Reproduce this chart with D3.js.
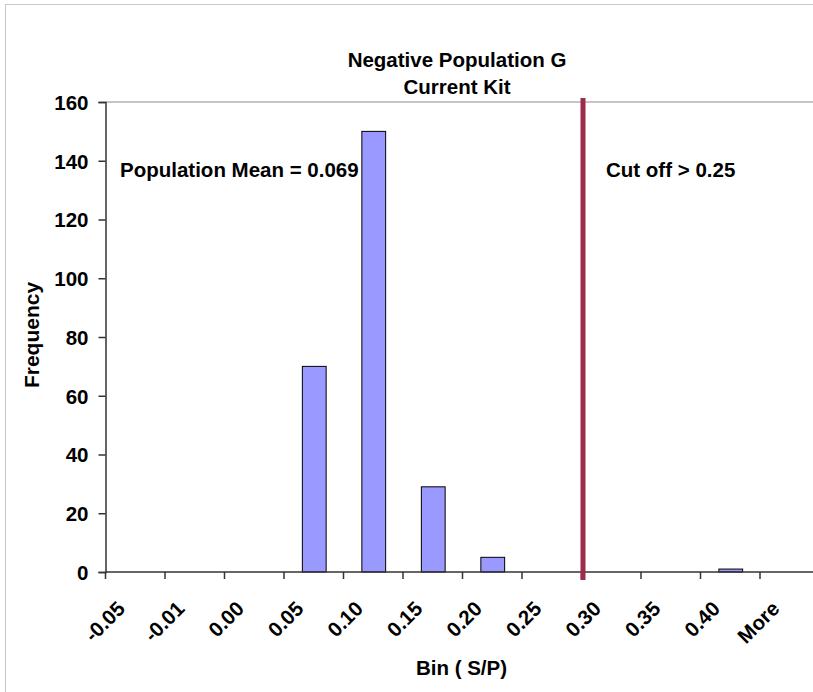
<!DOCTYPE html>
<html>
<head>
<meta charset="utf-8">
<script src="https://cdn.jsdelivr.net/npm/d3@7"></script>
<style>
  body { margin: 0; background: #fff; overflow: hidden; }
  svg text { font-family: "Liberation Sans", Arial, sans-serif; font-weight: bold; fill: #000; }
</style>
</head>
<body>
<svg id="chart"></svg>
<script>
// histogram bins and counts
const bins = ["-0.05", "-0.01", "0.00", "0.05", "0.10", "0.15", "0.20", "0.25", "0.30", "0.35", "0.40", "More"];
const counts = [0, 0, 0, 70, 150, 29, 5, 0, 0, 0, 1, 0];
const yTicks = [0, 20, 40, 60, 80, 100, 120, 140, 160];
const cutoffBin = "0.30";   // line drawn at the left edge of this bin
const titleLines = ["Negative Population G", "Current Kit"];

const W = 813, H = 692;
const margin = { top: 102, left: 105.5, bottom: 120, right: -6.5 };
const width = W - margin.left - margin.right;
const height = H - margin.top - margin.bottom;
const fs = "20.5px";

const svg = d3.select("#chart").attr("width", W).attr("height", H);

// outer chart frame (light gray, partly outside the window)
svg.append("rect")
  .attr("x", 5.5).attr("y", 4.5)
  .attr("width", 830).attr("height", 700)
  .attr("fill", "none").attr("stroke", "#c8c8c8").attr("stroke-width", 1);

const chart = svg.append("g").attr("transform", `translate(${margin.left},${margin.top})`);

const x = d3.scaleBand().domain(bins).range([0, width]).paddingInner(0).paddingOuter(0);
const y = d3.scaleLinear().domain([0, 160]).range([height, 0]);

// plot area top border
chart.append("line")
  .attr("x1", 0).attr("x2", width)
  .attr("y1", 0).attr("y2", 0)
  .attr("stroke", "#8c8c8c").attr("stroke-width", 1.2);

// bars (gap width 150%)
const barW = x.bandwidth() / 2.5;
chart.selectAll("rect.bar")
  .data(bins.map((b, i) => ({ bin: b, value: counts[i] })).filter(d => d.value > 0))
  .enter().append("rect")
  .attr("class", "bar")
  .attr("x", d => x(d.bin) + (x.bandwidth() - barW) / 2 + 0.5)
  .attr("y", d => y(d.value))
  .attr("width", barW)
  .attr("height", d => height - y(d.value))
  .attr("fill", "#9999ff")
  .attr("stroke", "#000").attr("stroke-width", 1);

// y axis
const yAxis = d3.axisLeft(y).tickValues(yTicks).tickSize(7).tickPadding(10);
const yG = chart.append("g").call(yAxis);
yG.select(".domain").attr("stroke", "#333").attr("stroke-width", 1.5);
yG.selectAll(".tick line").attr("stroke", "#333").attr("stroke-width", 1.5);
yG.selectAll("text").style("font-size", fs).attr("dy", "0.36em");

// x axis: ticks on bin boundaries
const xG = chart.append("g").attr("transform", `translate(0,${height})`);
xG.append("line")
  .attr("x1", 0).attr("x2", width)
  .attr("stroke", "#333").attr("stroke-width", 1.5);
xG.selectAll("line.tick")
  .data(bins)
  .enter().append("line")
  .attr("class", "tick")
  .attr("x1", d => x(d)).attr("x2", d => x(d))
  .attr("y1", 0).attr("y2", 7)
  .attr("stroke", "#333").attr("stroke-width", 1.5);
xG.selectAll("text")
  .data(bins)
  .enter().append("text")
  .attr("text-anchor", "end")
  .attr("transform", d => `translate(${x(d) + x.bandwidth() / 2 - 9},${38}) rotate(-45)`)
  .style("font-size", fs)
  .text(d => d);

// cut-off line
chart.append("line")
  .attr("x1", x(cutoffBin) + 1.5).attr("x2", x(cutoffBin) + 1.5)
  .attr("y1", -4).attr("y2", height + 8)
  .attr("stroke", "#9b2d4b").attr("stroke-width", 5);

// title
svg.append("text")
  .attr("x", 457).attr("y", 67)
  .attr("text-anchor", "middle")
  .style("font-size", fs)
  .selectAll("tspan")
  .data(titleLines)
  .enter().append("tspan")
  .attr("x", 457)
  .attr("dy", (d, i) => i === 0 ? 0 : 27)
  .text(d => d);

// annotations
svg.append("text")
  .attr("x", 120).attr("y", 177)
  .style("font-size", fs)
  .text("Population Mean = 0.069");
svg.append("text")
  .attr("x", 606).attr("y", 177)
  .style("font-size", fs)
  .text("Cut off > 0.25");

// axis titles
svg.append("text")
  .attr("transform", "translate(39,335) rotate(-90)")
  .attr("text-anchor", "middle")
  .style("font-size", "21px")
  .text("Frequency");
svg.append("text")
  .attr("x", 461.5).attr("y", 675)
  .attr("text-anchor", "middle")
  .style("font-size", fs)
  .text("Bin ( S/P)");
</script>
</body>
</html>
